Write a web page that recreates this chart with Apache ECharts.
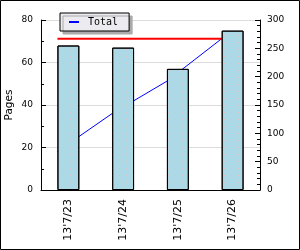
<!DOCTYPE html>
<html><head><meta charset="utf-8">
<script src="https://cdn.jsdelivr.net/npm/echarts@6/dist/echarts.min.js"></script>
<style>html,body{margin:0;padding:0;background:#fff}#c{width:300px;height:250px}</style>
</head><body><div id="c"></div>
<script>
const categories = ["13'7/23", "13'7/24", "13'7/25", "13'7/26"];
const pages = [68, 67, 57, 75];
const totalValues = [68, 135, 192, 267];
const totalLevel = 267;

const barRatio = 0.4;
const edgeOffset = (1 - barRatio) / 2;
const totalPoints = totalValues.map((v, i) => [i + edgeOffset, v]);
const levelPoints = [[edgeOffset, totalLevel], [categories.length - 1 + edgeOffset, totalLevel]];

const chart = echarts.init(document.getElementById('c'), null, {renderer: 'canvas'});
const axisLabelStyle = {color: '#000', fontFamily: 'DejaVu Sans', fontSize: 9, padding: [4, 0, 0, 0]};
chart.setOption({
  animation: false,
  backgroundColor: '#fff',
  grid: {left: 41, right: 40, top: 20, bottom: 60, containLabel: false, outerBoundsMode: 'none'},
  legend: {
    data: [{name: 'Total', icon: 'rect', itemStyle: {color: '#0000ff'}}],
    left: 60, top: 13, orient: 'horizontal',
    itemWidth: 10, itemHeight: 2, itemGap: 0,
    padding: [4, 11, 4, 9],
    backgroundColor: '#ebebf0', borderColor: '#000', borderWidth: 1,
    shadowColor: '#aaaaaa', shadowBlur: 0, shadowOffsetX: 3, shadowOffsetY: 3,
    textStyle: {fontFamily: 'DejaVu Sans Mono', fontSize: 10, color: '#000', padding: [0, 0, 0, 4]}
  },
  xAxis: [
    {type: 'category', data: categories,
     axisLine: {lineStyle: {color: '#000', width: 1}},
     axisTick: {inside: true, length: 5, lineStyle: {color: '#000'}},
     axisLabel: {rotate: 90, margin: 9, color: '#000', fontFamily: 'DejaVu Sans', fontSize: 11, interval: 0},
     splitLine: {show: false}},
    {type: 'value', min: 0, max: categories.length, show: false}
  ],
  yAxis: [
    {type: 'value', min: 0, max: 80, interval: 20,
     name: 'Pages', nameLocation: 'middle', nameGap: 26, nameRotate: 90, nameMoveOverlap: false,
     nameTextStyle: {color: '#000', fontFamily: 'DejaVu Sans', fontSize: 10.5},
     axisLine: {show: true, lineStyle: {color: '#000'}},
     axisTick: {show: true, inside: true, length: 5, lineStyle: {color: '#000'}},
     minorTick: {show: true, splitNumber: 2, length: 3, lineStyle: {color: '#000'}},
     splitLine: {show: true, lineStyle: {color: '#dcdcdc'}},
     axisLabel: Object.assign({margin: 8}, axisLabelStyle)},
    {type: 'value', min: 0, max: 300, interval: 50, position: 'right',
     axisLine: {show: true, lineStyle: {color: '#000'}},
     axisTick: {show: true, inside: true, length: 5, lineStyle: {color: '#000'}},
     minorTick: {show: true, splitNumber: 5, length: 3, lineStyle: {color: '#000'}},
     splitLine: {show: false},
     axisLabel: Object.assign({margin: 7}, axisLabelStyle)}
  ],
  series: [
    {name: 'Total', type: 'line', xAxisIndex: 1, yAxisIndex: 1, data: totalPoints, z: 1,
     showSymbol: false, symbol: 'none', lineStyle: {color: '#0000ff', width: 1}, itemStyle: {color: '#0000ff'}},
    {name: 'level', type: 'line', xAxisIndex: 1, yAxisIndex: 1, data: levelPoints, z: 1,
     showSymbol: false, symbol: 'none', lineStyle: {color: '#ff0000', width: 2}},
    {name: 'Pages', type: 'bar', xAxisIndex: 0, yAxisIndex: 0, data: pages, z: 3,
     barWidth: (barRatio * 100) + '%',
     itemStyle: {color: '#add8e6', borderColor: '#000', borderWidth: 1,
       decal: {symbol: 'rect', symbolSize: 1, color: '#e4bcc4', dashArrayX: [1, 6], dashArrayY: [1, 6], rotation: 0}}}
  ],
  graphic: [{type: 'rect', shape: {x: 0.5, y: 0.5, width: 299, height: 249},
    style: {fill: null, stroke: '#000', lineWidth: 1}, silent: true, z: 100}]
});
</script></body></html>
